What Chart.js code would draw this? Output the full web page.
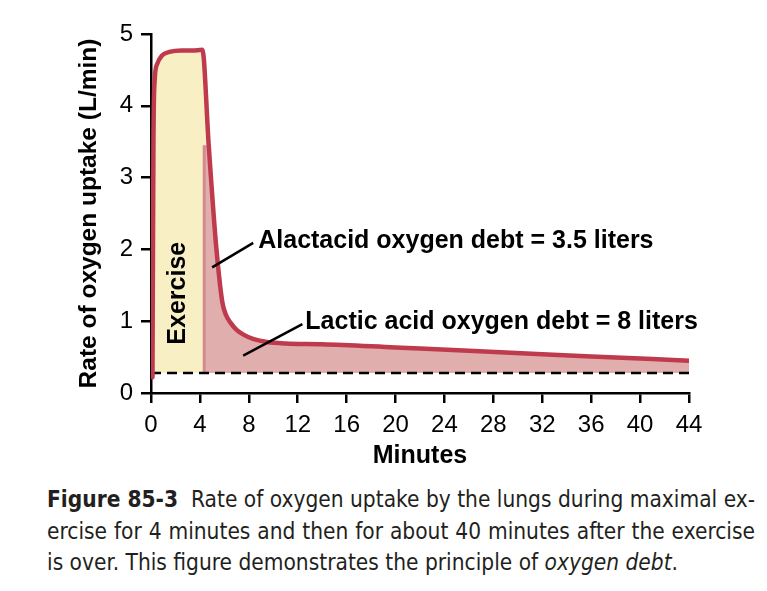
<!DOCTYPE html>
<html>
<head>
<meta charset="utf-8">
<script src="https://cdn.jsdelivr.net/npm/chart.js@4/dist/chart.umd.min.js"></script>
<style>
  html, body { margin: 0; padding: 0; background: #ffffff; }
  #wrap { position: relative; width: 767px; height: 591px; overflow: hidden; }
  #c { position: absolute; left: 0; top: 0; }
  #caption {
    position: absolute; left: 47px; top: 484px; width: 708px;
    font-family: "Liberation Sans Narrow", "DejaVu Sans Condensed", "Liberation Sans", sans-serif;
    font-size: 22.5px; line-height: 31.5px; color: #231f20;
  }
  #caption .j { text-align: justify; text-align-last: justify; white-space: nowrap; }
  #caption b { font-weight: bold; }
</style>
</head>
<body>
<div id="wrap">
  <canvas id="c" width="767" height="480"></canvas>
  <div id="caption">
    <div class="j"><b>Figure 85-3</b>&nbsp; Rate of oxygen uptake by the lungs during maximal ex-</div>
    <div class="j">ercise for 4 minutes and then for about 40 minutes after the exercise</div>
    <div>is over. This figure demonstrates the principle of <i>oxygen debt</i>.</div>
  </div>
</div>
<script>
// ---- data ----
const minutes = [0.12, 0.2, 0.3, 0.5, 0.9, 1.5, 2.5, 3.4, 4.2, 4.72, 5.3, 5.65, 5.85, 6.1, 6.5, 7.0, 7.6, 8.4, 9.5, 11, 14, 20, 26, 32, 38, 44];
const uptake  = [0.22, 3.5, 4.35, 4.58, 4.7, 4.75, 4.77, 4.77, 4.78, 3.45, 2.1, 1.5, 1.25, 1.1, 0.98, 0.88, 0.81, 0.75, 0.71, 0.69, 0.68, 0.635, 0.59, 0.54, 0.495, 0.45];
const restingLevel = 0.28;       // dashed baseline (L/min)
const exerciseEnd = 4.35;        // minute where exercise shading stops
const alactacidTop = 3.45;       // top of the alactacid region edge
const xTicks = [0, 4, 8, 12, 16, 20, 24, 28, 32, 36, 40, 44];
const yTicks = [0, 1, 2, 3, 4, 5];
const labels = {
  exercise: 'Exercise',
  alactacid: 'Alactacid oxygen debt = 3.5 liters',
  lactic: 'Lactic acid oxygen debt = 8 liters',
  xTitle: 'Minutes',
  yTitle: 'Rate of oxygen uptake (L/min)'
};

// ---- build datasets ----
const curve = minutes.map((m, i) => ({ x: m, y: uptake[i] }));
const exercisePts = curve.filter(p => p.x <= 4.72);
const recoveryPts = [{ x: exerciseEnd, y: alactacidTop }].concat(curve.filter(p => p.x >= 4.72));
const baseline = [{ x: xTicks[0], y: restingLevel }, { x: xTicks[xTicks.length - 1], y: restingLevel }];
const edge = [{ x: exerciseEnd, y: restingLevel }, { x: exerciseEnd, y: alactacidTop }];

const FONT = '"Liberation Sans", Arial, Helvetica, sans-serif';

const annotPlugin = {
  id: 'annot',
  afterDatasetsDraw(chart) {
    const { ctx, scales: { x, y } } = chart;
    ctx.save();
    ctx.strokeStyle = '#000';
    ctx.lineWidth = 2.5;
    const seg = (x1, y1, x2, y2) => {
      ctx.beginPath();
      ctx.moveTo(x.getPixelForValue(x1), y.getPixelForValue(y1));
      ctx.lineTo(x.getPixelForValue(x2), y.getPixelForValue(y2));
      ctx.stroke();
    };
    seg(5.0, 1.75, 8.36, 2.09);
    seg(7.54, 0.52, 12.38, 0.96);
    ctx.fillStyle = '#000';
    ctx.font = 'bold 25px ' + FONT;
    ctx.textBaseline = 'middle';
    ctx.textAlign = 'left';
    ctx.fillText(labels.alactacid, x.getPixelForValue(8.77), y.getPixelForValue(2.12));
    ctx.fillText(labels.lactic, x.getPixelForValue(12.62), y.getPixelForValue(0.99));
    ctx.translate(x.getPixelForValue(2.25), y.getPixelForValue(1.39));
    ctx.rotate(-Math.PI / 2);
    ctx.textAlign = 'center';
    ctx.fillText(labels.exercise, 0, 0);
    ctx.restore();
  }
};

new Chart(document.getElementById('c'), {
  type: 'line',
  data: {
    datasets: [
      { data: curve, borderColor: '#be3a4c', borderWidth: 4.5, fill: false, pointRadius: 0,
        cubicInterpolationMode: 'monotone', order: 0, borderCapStyle: 'round', borderJoinStyle: 'round' },
      { data: baseline, borderColor: '#000', borderWidth: 2.5, borderDash: [10, 6], fill: false, pointRadius: 0, order: 1 },
      { data: edge, borderColor: '#d58a90', borderWidth: 3, fill: false, pointRadius: 0, order: 2 },
      { data: recoveryPts, borderWidth: 0, borderColor: 'rgba(0,0,0,0)', backgroundColor: '#e0aeac',
        fill: { value: restingLevel }, pointRadius: 0, cubicInterpolationMode: 'monotone', order: 3 },
      { data: exercisePts, borderWidth: 0, borderColor: 'rgba(0,0,0,0)', backgroundColor: '#f9efc5',
        fill: { value: restingLevel }, pointRadius: 0, cubicInterpolationMode: 'monotone', order: 4 }
    ]
  },
  options: {
    responsive: false,
    animation: false,
    devicePixelRatio: 1,
    layout: { padding: { left: 0, right: 78, top: 34, bottom: 0 } },
    plugins: { legend: { display: false }, tooltip: { enabled: false } },
    scales: {
      x: {
        type: 'linear', min: xTicks[0], max: xTicks[xTicks.length - 1],
        afterBuildTicks: s => { s.ticks = xTicks.map(v => ({ value: v })); },
        afterFit: s => { s.height = 87; },
        ticks: { color: '#000', font: { family: FONT, size: 24 }, padding: 8, maxRotation: 0, autoSkip: false },
        grid: { drawOnChartArea: false, drawTicks: true, tickLength: 10, color: '#000', lineWidth: 2.5 },
        border: { color: '#000', width: 2.5 },
        title: { display: true, text: labels.xTitle, color: '#000', font: { family: FONT, size: 25, weight: 'bold' }, padding: { top: 0, bottom: 9 } }
      },
      y: {
        type: 'linear', min: yTicks[0], max: yTicks[yTicks.length - 1],
        afterBuildTicks: s => { s.ticks = yTicks.map(v => ({ value: v })); },
        afterFit: s => { s.width = 151; },
        ticks: { color: '#000', font: { family: FONT, size: 24 }, padding: 8 },
        grid: { drawOnChartArea: false, drawTicks: true, tickLength: 10, color: '#000', lineWidth: 2.5 },
        border: { color: '#000', width: 2.5 },
        title: { display: true, text: labels.yTitle, color: '#000', font: { family: FONT, size: 24.5, weight: 'bold' }, padding: { top: 75, bottom: 0 } }
      }
    }
  },
  plugins: [annotPlugin]
});
</script>
</body>
</html>
